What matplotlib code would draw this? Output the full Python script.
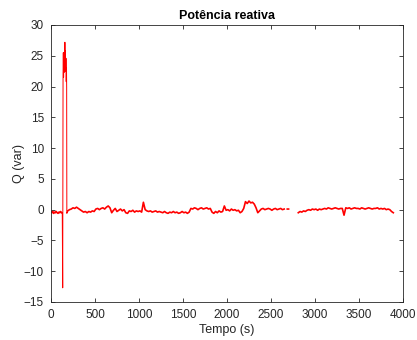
import numpy as np
from matplotlib import pyplot as plt
from matplotlib import rcParams

rcParams["font.family"] = ["Liberation Sans", "DejaVu Sans"]
rcParams["font.size"] = 8

# baseline before the spike (t = 0..120 s, every 10 s)
t_start = np.arange(0, 121, 10)
q_start = [-0.4, -0.5, -0.3, -0.6, -0.4, -0.5, -0.3, -0.5, -0.6, -0.4, -0.5, -0.3, -0.5]

# start-up spike
t_spike = [128, 133, 137, 140, 143, 146, 149, 152, 155, 158, 161, 164, 167, 170, 173, 176, 178, 180]
q_spike = [-0.5, -12.7, 22.0, 25.5, 21.5, 24.8, 22.3, 25.6, 23.0, 27.2, 24.0, 25.8,
           22.5, 24.6, 20.8, 23.0, 19.8, -0.6]

# steady operation up to the first gap (every 20 s from 190 s)
t_mid = np.arange(190, 2651, 20)
q_mid = [
    -0.2, 0.0, 0.1,
    0.3, 0.2, 0.4, 0.2,
    0.0, -0.2,
    -0.4, -0.3, -0.5, -0.3, -0.4, -0.2, -0.3,
    0.1, 0.2, 0.0, 0.2, 0.3, 0.1, 0.4,
    0.6, 0.3,
    -0.5, -0.1,
    0.2, -0.3, -0.1,
    0.1, -0.2, 0.0, -0.5, -0.6,
    -0.2, -0.3, -0.1, -0.4, -0.2, -0.3, -0.2, -0.4,
    1.2,
    0.0, -0.2, -0.3, -0.2, -0.4, -0.3, -0.2, -0.4, -0.3,
    -0.4, -0.5, -0.3, -0.5, -0.6, -0.4, -0.5, -0.3, -0.5, -0.4, -0.6, -0.5, -0.3, -0.5, -0.4, -0.6, -0.4,
    0.2, 0.1, 0.3, 0.2, 0.0, 0.2, 0.3, 0.1, 0.2, 0.3, 0.1, 0.2,
    -0.4, -0.6, -0.3, -0.5, -0.2, -0.4, -0.3,
    0.6,
    -0.1, 0.0, -0.2, 0.1, -0.1, 0.0, -0.2, -0.1,
    -0.5, -0.3, 0.2,
    1.3, 1.0, 1.4, 1.1, 1.2, 0.9,
    0.3, -0.5, -0.2,
    0.1, 0.2, 0.0, 0.1, 0.2, 0.1, -0.1, 0.1, 0.2, 0.0, 0.1, 0.2, 0.0, 0.1,
]

# isolated short record inside the gap
t_dot = [2685, 2700]
q_dot = [0.1, 0.1]

# last stretch (every 20 s from 2810 s)
t_end = np.arange(2810, 3891, 20)
q_end = [
    -0.5, -0.3, -0.4, -0.2, -0.3,
    -0.1, 0.0, -0.1, 0.1, 0.0, 0.1, -0.1, 0.1, 0.0, 0.1,
    0.2, 0.1, 0.3, 0.2, 0.1, 0.2, 0.3, 0.2, 0.1, 0.2, 0.2,
    -0.9,
    0.3, 0.2, 0.3, 0.1, 0.2, 0.3, 0.2, 0.2, 0.1, 0.3, 0.2, 0.1, 0.2, 0.3, 0.2, 0.1,
    0.2, 0.2, 0.3, 0.1, 0.2, 0.1, 0.2, 0.0, 0.1, 0.0,
    -0.3, -0.5,
]

t_base = np.concatenate([t_start, [np.nan], t_mid, [np.nan], t_dot, [np.nan], t_end])
q_base = np.concatenate([q_start, [np.nan], q_mid, [np.nan], q_dot, [np.nan], q_end])
# spike joined to its neighbours
t_sp = np.concatenate([t_start[-1:], t_spike, t_mid[:1]])
q_sp = np.concatenate([q_start[-1:], q_spike, q_mid[:1]])

fig = plt.figure(figsize=(4.17, 3.40), dpi=100)
ax = fig.add_axes([0.1223, 0.1118, 0.8441, 0.8147])
ax.plot(t_sp, q_sp, color="red", lw=0.7)
ax.plot(t_base, q_base, color="red", lw=1.2)

ax.set_xlim(0, 4000)
ax.set_ylim(-15, 30)
ax.set_xticks(range(0, 4001, 500))
ax.set_yticks(range(-15, 31, 5))
ax.tick_params(direction="in", length=3, width=0.6, top=True, right=True,
               colors="0.15", labelsize=8.5, pad=5)
for s in ax.spines.values():
    s.set_linewidth(0.6)
    s.set_color("0.15")

ax.set_title("Potência reativa", fontsize=9, fontweight="bold", pad=4)
ax.set_xlabel("Tempo (s)", fontsize=9, color="0.15", labelpad=2)
ax.set_ylabel("Q (var)", fontsize=9, color="0.15", labelpad=-1)

fig.savefig("out.png", dpi=100)
